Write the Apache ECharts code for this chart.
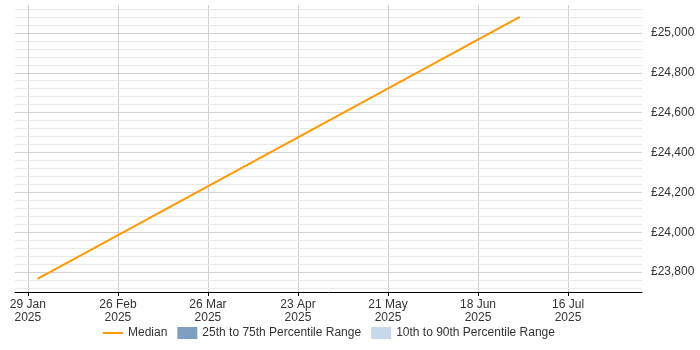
<!DOCTYPE html>
<html>
<head>
<meta charset="utf-8">
<script src="https://cdn.jsdelivr.net/npm/echarts@6/dist/echarts.min.js"></script>
<style>
	html, body { margin: 0; padding: 0; background: #ffffff; }
	#chart { width: 700px; height: 350px; }
</style>
</head>
<body>
<div id="chart"></div>
<script>
	//中位数数据点（日期，薪资）
	var medianDates = ["2025-02-01", "2025-07-01"];
	var medianValues = [23766, 25081];
	//X轴刻度日期
	var xTickDates = ["2025-01-29", "2025-02-26", "2025-03-26", "2025-04-23", "2025-05-21", "2025-06-18", "2025-07-16"];
	//Y轴主刻度
	var yTickValues = [23800, 24000, 24200, 24400, 24600, 24800, 25000];
	//图例名称
	var legendNames = ["Median", "25th to 75th Percentile Range", "10th to 90th Percentile Range"];

	var monthNames = ["Jan", "Feb", "Mar", "Apr", "May", "Jun", "Jul", "Aug", "Sep", "Oct", "Nov", "Dec"];
	var yMin = 23700;
	var yMax = 25140;

	function toTime(s) {
		var p = s.split("-");
		return Date.UTC(+p[0], +p[1] - 1, +p[2]);
	}

	//格式化日期标签
	function formatDate(value) {
		var d = new Date(value);
		return d.getUTCDate() + " " + monthNames[d.getUTCMonth()] + "\n" + d.getUTCFullYear();
	}

	//格式化金额
	function formatMoney(value) {
		return "£" + String(value).replace(/\B(?=(\d{3})+(?!\d))/g, ",");
	}

	var lineData = [];
	for (var i = 0; i < medianDates.length; i++) {
		lineData.push([toTime(medianDates[i]), medianValues[i]]);
	}
	var tickValues = [];
	for (var j = 0; j < xTickDates.length; j++) {
		tickValues.push(toTime(xTickDates[j]));
	}
	//次网格线（每40一条，跳过主刻度）
	var yMinorValues = [];
	for (var v = 23720; v <= yMax; v += 40) {
		if (v % 200 !== 0) yMinorValues.push(v);
	}

	var chart = echarts.init(document.getElementById("chart"), null, { renderer: "canvas" });
	var option = {
		animation: false,
		textStyle: { fontFamily: "Liberation Sans, Arial, sans-serif" },
		grid: {
			left: 15,
			right: 58,
			top: 5,
			bottom: 58,
		},
		legend: {
			left: 98,
			top: 322,
			itemWidth: 20,
			itemHeight: 12,
			itemGap: 10,
			textStyle: { fontSize: 12, color: "#333333" },
			data: [
				{ name: legendNames[0], icon: "path://M0,5 L20,5 L20,7 L0,7 Z" },
				{ name: legendNames[1], icon: "rect" },
				{ name: legendNames[2], icon: "rect" },
			],
		},
		xAxis: {
			type: "value",
			min: toTime("2025-01-25"),
			max: toTime("2025-08-08"),
			axisLine: { show: true, onZero: false, lineStyle: { color: "#000000", width: 1 } },
			axisTick: {
				show: true,
				length: 4,
				customValues: tickValues,
				lineStyle: { color: "#000000" },
			},
			axisLabel: {
				customValues: tickValues,
				formatter: formatDate,
				color: "#333333",
				fontSize: 12,
				lineHeight: 13,
				margin: 6,
			},
			splitLine: { show: true, lineStyle: { color: "#d0d0d0", width: 1 } },
		},
		yAxis: [
			{
				//主刻度与标签
				type: "value",
				position: "right",
				min: yMin,
				max: yMax,
				axisLine: { show: false },
				axisTick: { show: false, customValues: yTickValues },
				axisLabel: {
					customValues: yTickValues,
					color: "#333333",
					fontSize: 12,
					margin: 9,
					formatter: formatMoney,
				},
				splitLine: { show: true, lineStyle: { color: "#d0d0d0", width: 1 } },
				z: 2,
			},
			{
				//次网格线
				type: "value",
				position: "right",
				min: yMin,
				max: yMax,
				axisLine: { show: false },
				axisTick: { show: false, customValues: yMinorValues },
				axisLabel: { show: false, customValues: yMinorValues },
				splitLine: { show: true, lineStyle: { color: "#e8e8e8", width: 1 } },
				z: 1,
			},
		],
		series: [
			{
				name: legendNames[0],
				type: "line",
				showSymbol: false,
				symbol: "none",
				lineStyle: { color: "#ff9900", width: 2 },
				itemStyle: { color: "#ff9900" },
				data: lineData,
				z: 5,
			},
			{
				name: legendNames[1],
				type: "line",
				itemStyle: { color: "#7f9fc0" },
				data: [],
			},
			{
				name: legendNames[2],
				type: "line",
				itemStyle: { color: "#c6d9ec" },
				data: [],
			},
		],
	};
	chart.setOption(option);
</script>
</body>
</html>
